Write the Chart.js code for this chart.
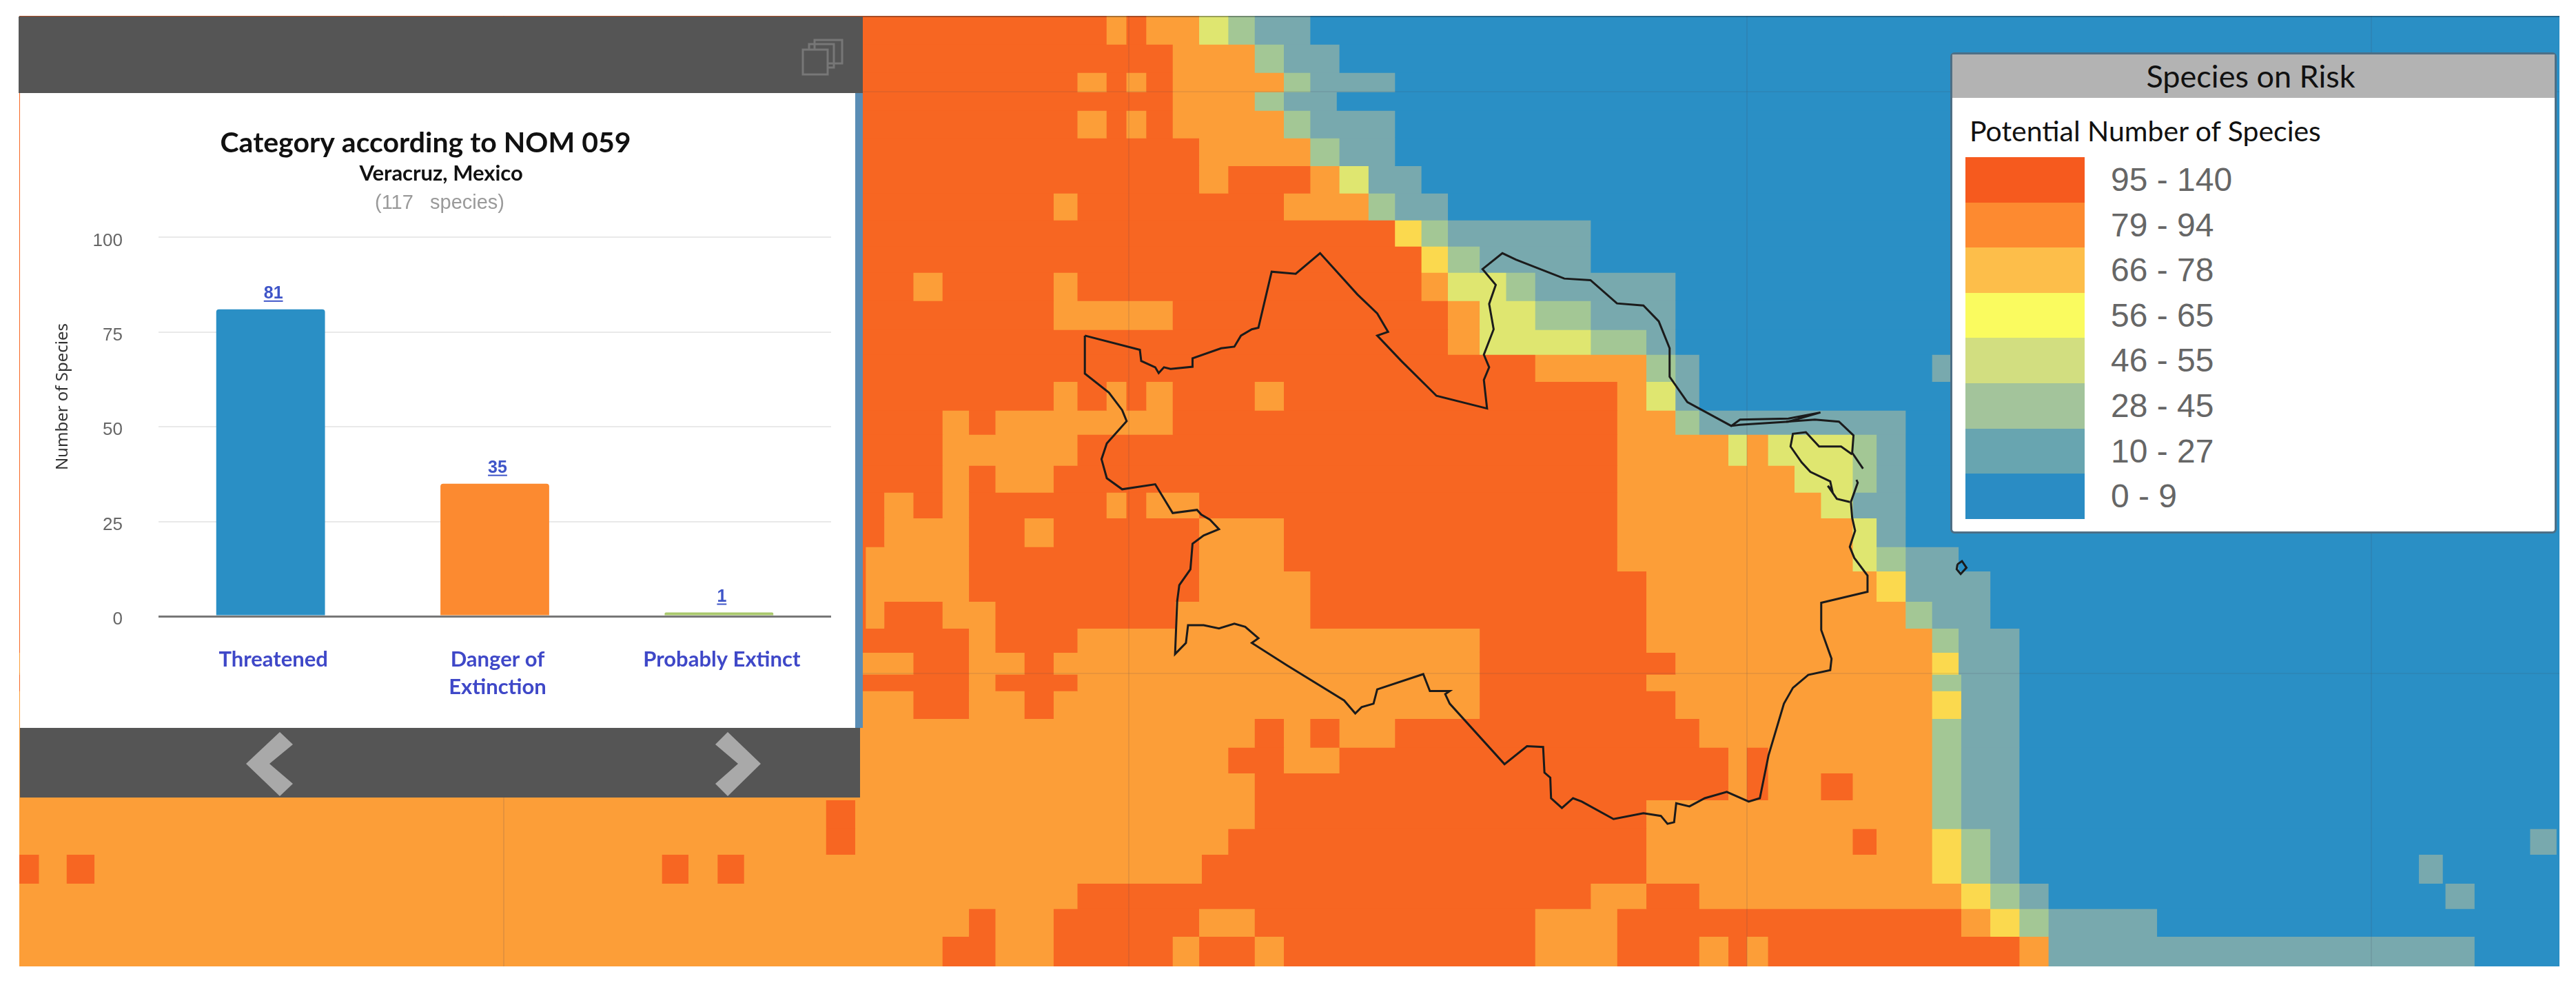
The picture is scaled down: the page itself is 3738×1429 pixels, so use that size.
<!DOCTYPE html>
<html><head><meta charset="utf-8">
<script src="https://cdn.jsdelivr.net/npm/chart.js@4"></script>
<style>
html,body{margin:0;padding:0;background:#fff;width:3738px;height:1429px;overflow:hidden}
.a{position:absolute}
canvas{position:absolute;display:block}
</style></head><body>
<canvas id="map" class="a" width="3686" height="1379" style="left:28px;top:23px;width:3686px;height:1379px"></canvas>
<canvas id="over" class="a" width="3686" height="1379" style="left:28px;top:23px;width:3686px;height:1379px"></canvas>
<div class="a" style="left:28px;top:23px;width:3686px;height:2px;background:rgba(20,30,40,.35)"></div>

<div class="a" style="left:27px;top:24px;width:1225px;height:111px;background:#555"></div>
<svg class="a" style="left:1160px;top:52px" width="70" height="62" fill="none" stroke="#777" stroke-width="3"><rect x="22" y="6" width="40" height="34"/><rect x="14" y="12" width="36" height="34" /><rect x="5" y="20" width="36" height="36" fill="#555"/></svg>
<div class="a" style="left:1241px;top:135px;width:11px;height:921px;background:#5a8db5"></div>
<div class="a" style="left:29px;top:135px;width:1212px;height:921px;background:#fff"></div>
<canvas id="bars" class="a" width="1212" height="921" style="left:29px;top:135px;width:1212px;height:921px"></canvas>
<div class="a" style="left:29px;top:1056px;width:1219px;height:101px;background:#555"></div>
<svg class="a" style="left:0;top:0" width="1300" height="1200"><polygon fill="#a9a9a9" points="406,1062 425,1080 391,1108 425,1137 406,1155 357,1108"/><polygon fill="#a9a9a9" points="1056,1062 1104,1108 1056,1155 1038,1137 1071,1108 1038,1080"/></svg>
<div class="a" id="sub3" style="left:29px;top:277px;width:1212px;text-align:center;font:29px 'Liberation Sans';color:#9a9a9a;padding-left:6px;box-sizing:border-box;white-space:pre">(117   species)</div>

<div class="a" id="legend" style="left:2833px;top:79px;width:874px;height:692px;background:#fff;outline:3px solid #4d6f86;border-radius:3px">
  <div class="a" id="lgTitle" style="left:0;top:0;width:866px;padding-right:8px;height:63px;background:#b3b3b3;text-align:center;font:400 45px/62px Lato;color:#111">Species on Risk</div>
  <div class="a" id="lgSub" style="left:25px;top:86px;font:400 41px/50px Lato;color:#111;white-space:nowrap">Potential Number of Species</div>
  <div id="lgRows"></div>
</div>

<script>
const categories = ["Threatened", ["Danger of", "Extinction"], "Probably Extinct"];
const speciesCounts = [81, 35, 1];
const barColors = ["#2a8fc5", "#fc8a30", "#a9c86c"];
const yTicks = [0, 25, 50, 75, 100];

const legendLabels = ["95 - 140","79 - 94","66 - 78","56 - 65","46 - 55","28 - 45","10 - 27","0 - 9"];
const legendColors = ["#f65a1e","#fd8a30","#fdbe4a","#fafb5f","#d2de80","#a3c49b","#68a5b0","#2a8cc4"];

const classColors = {R:"#f76622",O:"#fc9e38",Y:"#fbd94e",L:"#dfe670",G:"#a3c795",T:"#78a9ae",B:"#2a8fc5"};
/* each row: class letter followed by the column where that class ends; a bare letter runs to the edge */
const mapRows = [
"R41.1 O41.85 R42.6 O44.6 L45.7 G46.7 T48.8 B",
"R43.6 O46.7 G47.8 T49.9 B",
"R40 O41.1 R41.85 O42.6 R43.6 O47.8 G48.8 T52 B",
"R43.6 O46.7 G47.8 T49.8 B",
"R40 O41.1 R41.85 O42.6 R43.6 O47.8 G48.8 T52 B",
"R44.6 O48.8 G49.9 T52 B",
"R44.6 O45.7 R48.8 O49.9 L51 T53 B",
"R39.1 O40 R47.8 O51 G52 T54 B",
"R52 Y53 G54 T59.4 B",
"R53 Y54 G55.2 T59.4 B",
"R33.8 O34.9 R39.1 O40 R53 O54 L56.2 G57.3 T62.6 B",
"R39.1 O43.6 R54 O55.2 L57.3 G59.4 T62.6 B",
"R54 O55.2 L59.4 G61.5 T62.6 B",
"R57.3 O61.5 G62.6 T63.5 B72.3 T73 B",
"R39.1 O40 R41.1 O41.85 R42.6 O43.6 R46.7 O47.8 R60.4 O61.5 L62.6 T63.5 B",
"R34.9 O35.9 R36.9 O43.6 R60.4 O62.6 G63.5 T71.3 B",
"R34.9 O40 R60.4 O64.6 L65.3 O66.1 L69.3 G70.2 T71.3 B",
"R34.9 O35.9 R36.9 O39.1 R60.4 O67.1 L69.3 G70.2 T71.3 B",
"R32.7 O33.8 R34.9 O35.9 R41.1 O41.85 R42.6 O44.6 R60.4 O68.1 L69.3 T71.3 B",
"R32.7 O35.9 R38 O39.1 R44.6 O47.8 R60.4 O69.3 L70.2 T71.3 B",
"R32 O35.9 R44.6 O47.8 R60.4 O69.3 L70.2 G71.3 T73.3 B",
"R32 O35.9 R44.6 O48.8 R61.5 O70.2 Y71.3 T74.5 B",
"R32 O32.7 R34.9 O36.9 R43.7 O48.8 R61.5 O71.3 G72.3 T74.5 B",
"R35.9 O36.9 R40 O55.2 R61.5 O72.3 G73.3 T75.6 B",
"O33.8 R35.9 O38 R39.1 O55.2 R62.6 O72.3 Y73.3 T75.6 B",
"R35.9 O36.9 R40 O55.2 R61.5 O72.3 G73.4 T75.6 B",
"O33.8 R35.9 O38 R39.1 O55.2 R62.6 O72.3 Y73.4 T75.6 B",
"O46.7 R47.8 O48.8 R49.9 O52 R63.5 O72.3 G73.4 T75.6 B",
"O45.7 R47.8 O49.9 R64.6 O65.3 R66.1 O72.3 G73.4 T75.6 B",
"O46.7 R64.6 O65.3 R66.1 O68.1 R69.3 O72.3 G73.4 T75.6 B",
"O30.5 R31.6 O46.7 R61.5 O72.3 G73.4 T75.6 B",
"O30.5 R31.6 O45.7 R61.5 O69.3 R70.2 O72.3 Y73.4 G74.5 T75.6 B94.9 T95.9 B",
"R0.75 O1.8 R2.85 O24.3 R25.3 O26.4 R27.4 O44.7 R61.5 O72.3 Y73.4 G74.5 T75.6 B90.7 T91.6 B",
"O40 R59.4 O61.5 R63.5 O73.4 Y74.5 G75.6 T76.7 B91.7 T92.8 B",
"O35.9 R36.9 O39.1 R44.6 O46.7 R57.3 O60.4 R73.4 O74.5 Y75.6 G76.7 T80.8 B",
"O34.9 R36.9 O39.1 R43.6 O44.6 R46.7 O47.8 R57.3 O60.4 R63.5 O64.6 R65.3 O66.1 R75.6 O76.7 T92.8 B"
];
/* the source raster's rows are not evenly spaced: edges, in map units */
const rowEdges = [0,1.07,2.14,2.87,3.58,4.62,5.67,6.71,7.73,8.72,9.71,10.78,11.88,12.82,13.84,14.93,15.85,17.02,18.04,19.01,20.1,21.02,22.17,23.19,24.1,24.93,25.56,26.61,27.7,28.67,29.69,30.78,31.75,32.85,33.81,34.86,36];
const mapCols = 96;
const mapUnitsTall = 36;
const meridians = [18.3, 41.93, 65.3, 88.9];
const parallels = [2.87, 24.9];

const outlineMain = [[40.27,12.11],[42.35,12.65],[42.4,13.07],[42.93,13.31],[43.06,13.53],[43.26,13.31],[43.51,13.37],[44.34,13.29],[44.34,12.97],[45.42,12.59],[45.92,12.53],[46.17,12.11],[46.58,11.87],[46.83,11.81],[47.33,9.69],[48.24,9.77],[49.16,8.99],[50.57,10.55],[51.32,11.27],[51.73,11.97],[51.32,12.11],[52.23,13.07],[53.56,14.39],[55.47,14.87],[55.35,13.79],[55.55,13.31],[55.35,12.83],[55.72,11.87],[55.55,10.91],[55.8,10.19],[55.3,9.59],[56.05,8.99],[56.56,9.23],[58.39,9.95],[59.38,10.01],[60.38,10.89],[61.38,10.97],[61.96,11.57],[62.37,12.59],[62.37,13.67],[63.04,14.63],[64.7,15.53],[65.03,15.29],[66.86,15.25],[68.07,15.02],[66.86,15.37],[65.03,15.49],[64.7,15.53]];
const outlineCoast = [[66.78,15.37],[67.86,15.29],[68.77,15.37],[69.32,15.89],[69.27,16.55],[69.68,17.15]];
const outlineLagoon = [[69.27,16.61],[68.85,16.31],[68.02,16.31],[67.52,15.77],[67.03,15.83],[66.94,16.31],[67.36,16.91],[67.69,17.27],[68.44,17.63],[68.52,17.99],[68.35,17.8],[68.69,18.29],[69.18,18.41]];
const outlineSouth = [[69.43,17.57],[69.48,17.68],[69.22,18.41],[69.27,19.01],[69.38,19.5],[69.18,20.11],[69.35,20.53],[69.85,21.2],[69.85,21.81],[68.1,22.23],[68.1,23.26],[68.49,24.35],[68.44,24.78],[67.61,24.96],[67.03,25.45],[66.69,26.05],[66.11,28],[65.78,29.63],[65.36,29.76],[64.53,29.39],[63.7,29.63],[63.12,29.94],[62.62,29.82],[62.54,30.54],[62.29,30.6],[62.04,30.3],[61.38,30.2],[60.25,30.42],[59.05,29.76],[58.72,29.63],[58.3,30],[57.89,29.63],[57.86,28.85],[57.64,28.66],[57.59,27.69],[56.98,27.66],[56.13,28.34],[54.06,26.05],[53.89,25.69],[54.06,25.57],[53.31,25.57],[53.06,24.93],[51.32,25.51],[51.18,26.05],[50.73,26.18],[50.49,26.42],[50.07,25.93],[47.91,24.6],[46.58,23.75],[46.83,23.57],[46.33,23.14],[45.92,23.02],[45.34,23.2],[44.76,23.08],[44.17,23.08],[44.09,23.75],[43.68,24.17],[43.76,22.17],[43.84,21.56],[44.26,20.96],[44.34,19.99],[44.76,19.68],[45.34,19.44],[45,19.08],[44.67,18.89],[44.51,18.71],[43.59,18.83],[42.93,17.74],[41.68,17.93],[41.1,17.51],[40.9,16.79],[41.1,16.19],[41.85,15.35],[41.68,14.93],[41.18,14.27],[40.27,13.55],[40.27,12.11]];
const outlineIsland = [[73.25,20.77],[73.42,20.65],[73.59,20.9],[73.37,21.14],[73.22,20.96],[73.25,20.77]];

Chart.defaults.animation = false;
Chart.defaults.devicePixelRatio = 1;
Chart.defaults.responsive = false;

/* ---------- grid map: one floating-bar dataset per raster row ---------- */
const mapCanvas = document.getElementById("map");
const unitPx = mapCanvas.height / mapUnitsTall;
const mapDatasets = mapRows.map((row, i) => {
  let start = 0;
  const y = (rowEdges[i] + rowEdges[i + 1]) / 2;
  const colors = [], data = [];
  row.trim().split(/\s+/).forEach(tok => {
    const end = tok.length > 1 ? parseFloat(tok.slice(1)) : mapCols;
    data.push({x: [start, end], y});
    colors.push(classColors[tok[0]]);
    start = end;
  });
  return {data, backgroundColor: colors, borderWidth: 0, stack: "map",
          barThickness: (rowEdges[i + 1] - rowEdges[i]) * unitPx + 0.8};
});
new Chart(mapCanvas, {
  type: "bar",
  data: {datasets: mapDatasets},
  options: {
    indexAxis: "y", layout: {padding: 0},
    plugins: {legend: {display: false}, tooltip: {enabled: false}},
    scales: {
      x: {type: "linear", min: 0, max: mapCols, display: false, stacked: false},
      y: {type: "linear", min: 0, max: mapUnitsTall, reverse: true, display: false, offset: false, grid: {offset: false}}
    }
  }
});

/* ---------- outline + faint graticule ---------- */
const toXY = a => a.map(p => ({x: p[0], y: p[1]}));
const outlineStyle = {showLine: true, pointRadius: 0, borderColor: "#1b1b1b", borderWidth: 3, fill: false, tension: 0};
new Chart(document.getElementById("over"), {
  type: "scatter",
  data: {datasets: [outlineMain, outlineCoast, outlineLagoon, outlineSouth, outlineIsland].map(a => Object.assign({data: toXY(a)}, outlineStyle))},
  options: {
    layout: {padding: 0},
    plugins: {legend: {display: false}, tooltip: {enabled: false}},
    scales: {
      x: {type: "linear", min: 0, max: mapCols,
          afterBuildTicks: s => { s.ticks = meridians.map(v => ({value: v})); },
          ticks: {display: false}, border: {display: false},
          grid: {color: "rgba(70,70,90,0.13)", lineWidth: 2, drawTicks: false}},
      y: {type: "linear", min: 0, max: mapUnitsTall, reverse: true,
          afterBuildTicks: s => { s.ticks = parallels.map(v => ({value: v})); },
          ticks: {display: false}, border: {display: false},
          grid: {color: "rgba(70,70,90,0.10)", lineWidth: 2, drawTicks: false}}
    }
  }
});

/* ---------- bar chart ---------- */
const valueLabels = {
  id: "valueLabels",
  afterDatasetsDraw(chart) {
    const ctx = chart.ctx, meta = chart.getDatasetMeta(0);
    ctx.save();
    ctx.font = "bold 25px 'Liberation Sans'";
    ctx.fillStyle = "#3f55c8";
    ctx.textAlign = "center";
    ctx.textBaseline = "alphabetic";
    meta.data.forEach((bar, i) => {
      const t = String(speciesCounts[i]);
      const x = bar.x + 4, y = bar.y - 16;
      ctx.fillText(t, x, y);
      const w = ctx.measureText(t).width;
      ctx.fillRect(x - w / 2, y + 3, w, 2);
    });
    ctx.restore();
  }
};
new Chart(document.getElementById("bars"), {
  type: "bar",
  data: {labels: categories, datasets: [{
    data: speciesCounts, backgroundColor: barColors, borderWidth: 0,
    borderRadius: {topLeft: 4, topRight: 4}, barPercentage: 1, categoryPercentage: 0.485
  }]},
  plugins: [valueLabels],
  options: {
    layout: {padding: {right: 35, left: 0, top: 0, bottom: 0}},
    plugins: {
      legend: {display: false}, tooltip: {enabled: false},
      title: {display: true, text: "Category according to NOM 059", color: "#111",
              font: {family: "Lato", size: 41, weight: "bold", lineHeight: 1.2}, padding: {top: 48, bottom: 1}},
      subtitle: {display: true, text: "      Veracruz, Mexico", color: "#111",
              font: {family: "Lato", size: 31, weight: "bold", lineHeight: 1.2}, padding: {top: 0, bottom: 74}}
    },
    scales: {
      x: {
        afterFit: s => { s.height = 162; },
        grid: {display: false}, border: {display: false},
        ticks: {color: "#3f48c8", padding: 35, labelOffset: 4, maxRotation: 0, autoSkip: false,
                font: {family: "Lato", size: 31, weight: "bold", lineHeight: 1.3}}
      },
      y: {
        min: 0, max: 100,
        afterFit: s => { s.width = 201; },
        afterBuildTicks: s => { s.ticks = yTicks.map(v => ({value: v})); },
        border: {display: false},
        grid: {color: c => c.tick && c.tick.value === 0 ? "#777" : "#e9e9e9",
               lineWidth: c => c.tick && c.tick.value === 0 ? 3 : 2, drawTicks: false},
        ticks: {color: "#666", padding: 52, labelOffset: 5, font: {family: "Liberation Sans", size: 26}},
        title: {display: true, text: "              Number of Species", color: "#333",
                font: {family: "Noto Sans", size: 24, lineHeight: 1.2}, padding: {top: 48, bottom: 0}}
      }
    }
  }
});

/* ---------- legend ---------- */
const lg = document.getElementById("lgRows");
legendLabels.forEach((t, i) => {
  const top = 149 + i * 65.6;
  lg.insertAdjacentHTML("beforeend",
    `<div class="a" style="left:19px;top:${top}px;width:173px;height:66px;background:${legendColors[i]}"></div>` +
    `<div class="a" style="left:230px;top:${top}px;height:66px;font:48px/66px 'Liberation Sans';color:#666;white-space:nowrap">${t}</div>`);
});
</script>
</body></html>
